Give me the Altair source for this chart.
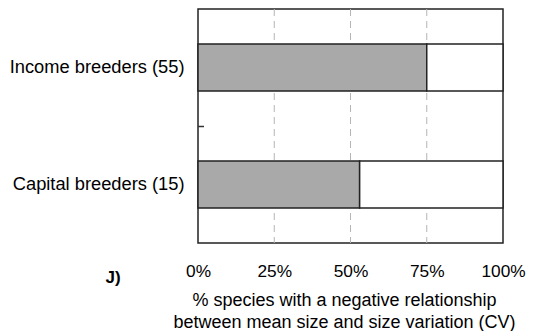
import altair as alt
import pandas as pd

categories = ["Income breeders (55)", "Capital breeders (15)"]
negative_pct = [0.75, 0.53]
grid_values = [0.25, 0.5, 0.75]
tick_values = [0, 0.25, 0.5, 0.75, 1.0]
x_title = ["% species with a negative relationship", "between mean size and size variation (CV)"]
panel_label = "J)"

rows = []
for c, v in zip(categories, negative_pct):
    rows.append({"cat": c, "seg": "negative", "order": 0, "val": v})
    rows.append({"cat": c, "seg": "other", "order": 1, "val": 1 - v})
df = pd.DataFrame(rows)
grid_df = pd.DataFrame({"g": grid_values})

FONT = "Liberation Sans"

x_enc = alt.X(
    "val:Q",
    stack="zero",
    scale=alt.Scale(domain=[0, 1], nice=False, zero=True),
    axis=alt.Axis(
        values=tick_values, format=".0%", grid=False, ticks=False, domain=False,
        labelPadding=19, labelFontSize=17.3, labelColor="black", labelFont=FONT,
        title=x_title, titleFontSize=18, titleFontWeight="normal", titleFont=FONT,
        titleColor="black", titlePadding=12, titleLineHeight=22,
        titleX=146, titleAlign="center", titleAnchor="middle",
        labelFlush=False,
    ),
)

y_enc = alt.Y(
    "cat:N",
    sort=categories,
    scale=alt.Scale(domain=categories, paddingInner=0, paddingOuter=0),
    axis=alt.Axis(
        title=None, ticks=False, domain=False, labelPadding=14,
        labelFontSize=18.3, labelColor="black", labelFont=FONT,
    ),
)

grid = alt.Chart(grid_df).mark_rule(
    color="#b5b5b5", strokeDash=[7, 5], strokeWidth=1
).encode(x=alt.X("g:Q", scale=alt.Scale(domain=[0, 1])))

bars = alt.Chart(df).mark_bar(
    size=47, stroke="#222222", strokeWidth=1.5
).encode(
    x=x_enc,
    y=y_enc,
    color=alt.Color(
        "seg:N",
        scale=alt.Scale(domain=["negative", "other"], range=["#a9a9a9", "#ffffff"]),
        legend=None,
    ),
    order=alt.Order("order:Q"),
)

mid_tick = alt.Chart(pd.DataFrame({"a": [0]})).mark_rule(
    color="#333333", strokeWidth=1.5
).encode(x=alt.value(0), x2=alt.value(6), y=alt.value(117.5))

label = alt.Chart(pd.DataFrame({"t": [panel_label]})).mark_text(
    fontSize=17, fontWeight="bold", font=FONT, color="black"
).encode(text="t:N", x=alt.value(-85), y=alt.value(269))

chart = alt.layer(grid, bars, mid_tick, label).properties(
    width=305, height=234,
    autosize=alt.AutoSizeParams(type="none"),
    padding={"left": 190, "top": 1, "right": 23, "bottom": 88},
).configure(
    background="white",
    view=alt.ViewConfig(stroke="#222222", strokeWidth=1.5),
)

chart.save("out.html", embed_options={"renderer": "svg", "actions": False})
